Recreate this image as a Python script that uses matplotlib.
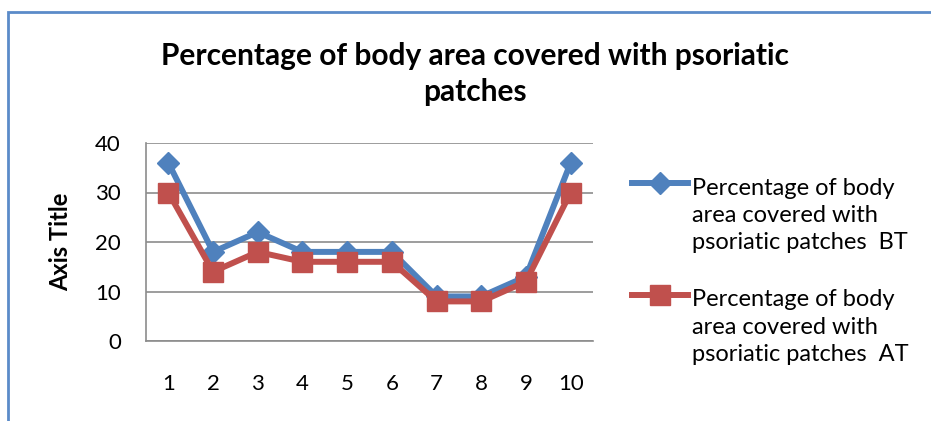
import matplotlib.pyplot as plt
from matplotlib.patches import Rectangle
from matplotlib.lines import Line2D

categories = [1, 2, 3, 4, 5, 6, 7, 8, 9, 10]
bt_values = [36, 18, 22, 18, 18, 18, 9, 9, 13, 36]
at_values = [30, 14, 18, 16, 16, 16, 8, 8, 12, 30]
bt_label = "Percentage of body\narea covered with\npsoriatic patches  BT"
at_label = "Percentage of body\narea covered with\npsoriatic patches  AT"
title = "Percentage of body area covered with psoriatic\npatches"

plt.rcParams['font.family'] = ['Lato', 'DejaVu Sans']

W, H = 931, 421
fig = plt.figure(figsize=(W / 100, H / 100), dpi=100)

# chart border (only left/top visible in the crop)
fig.patches.append(Rectangle((8 / W, -0.1), 1.2, (H - 12) / H + 0.1,
                             transform=fig.transFigure, fill=False,
                             edgecolor='#5B8BC9', linewidth=2))

ax = fig.add_axes([146 / W, (H - 341) / H, (593 - 146) / W, (341 - 143) / H])

blue, red = '#4F81BD', '#C0504D'
ax.plot(categories, bt_values, color=blue, linewidth=4.3, marker='D',
        markersize=11, zorder=3)
ax.plot(categories, at_values, color=red, linewidth=4.3, marker='s',
        markersize=14.5, zorder=4)

ax.set_xlim(0.5, 10.5)
ax.set_ylim(0, 40)
ax.set_yticks([0, 10, 20, 30, 40])
ax.set_xticks(categories)
ax.tick_params(length=0, labelsize=16)
ax.tick_params(axis='y', pad=18)
ax.tick_params(axis='x', pad=24)
ax.grid(axis='y', color='#8C8C8C', linewidth=1.2)
ax.set_axisbelow(True)
for s in ['top', 'right']:
    ax.spines[s].set_visible(False)
for s in ['left', 'bottom']:
    ax.spines[s].set_color('#8C8C8C')
    ax.spines[s].set_linewidth(1.2)

ax.set_ylabel("Axis Title", fontsize=17, fontweight='bold')
ax.yaxis.set_label_coords(-0.166, 0.5)

fig.text(475 / W, 1 - 74 / H, title, ha='center', va='center',
         fontsize=21.5, fontweight='bold', linespacing=1.34)

# legend, laid out by hand: marker on the first text line
for label, color, marker, ms, y_first, y_mid in [
        (bt_label, blue, 'D', 11, 183, 215.5),
        (at_label, red, 's', 14.5, 295, 327)]:
    fig.add_artist(Line2D([632 / W, 660 / W, 688 / W],
                          [1 - y_first / H] * 3, transform=fig.transFigure,
                          color=color, linewidth=4.3, marker=marker,
                          markersize=ms, markevery=[1]))
    fig.text(692 / W, 1 - y_mid / H, label, ha='left', va='center',
             fontsize=17, linespacing=1.36)

fig.savefig("out.png", dpi=100)
